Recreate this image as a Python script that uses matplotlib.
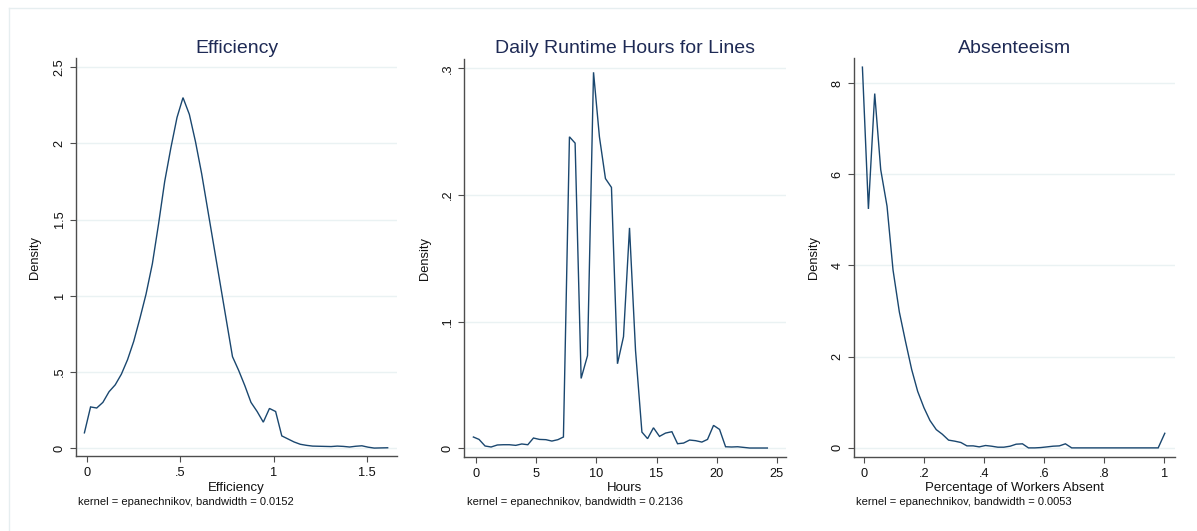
import matplotlib
matplotlib.use("Agg")
import matplotlib.pyplot as plt
from matplotlib.lines import Line2D

plt.rcParams['font.family'] = ['Liberation Sans', 'DejaVu Sans']

# ---------------- data ----------------
eff_x = [-0.014, 0.019, 0.052, 0.085, 0.118, 0.151, 0.184, 0.217, 0.250, 0.283,
         0.316, 0.350, 0.383, 0.416, 0.449, 0.482, 0.514, 0.548, 0.581, 0.614,
         0.647, 0.680, 0.713, 0.746, 0.779, 0.812, 0.845, 0.878, 0.911, 0.944,
         0.977, 1.010, 1.043, 1.076, 1.109, 1.142, 1.175, 1.208, 1.241, 1.274,
         1.307, 1.340, 1.373, 1.406, 1.439, 1.472, 1.505, 1.538, 1.571, 1.610]
eff_y = [0.10, 0.27, 0.263, 0.30, 0.37, 0.415, 0.485, 0.58, 0.70, 0.85,
         1.01, 1.21, 1.47, 1.75, 1.97, 2.17, 2.30, 2.19, 2.01, 1.80,
         1.56, 1.32, 1.08, 0.84, 0.60, 0.51, 0.41, 0.30, 0.24, 0.17,
         0.26, 0.24, 0.08, 0.06, 0.04, 0.025, 0.018, 0.013, 0.012, 0.011,
         0.010, 0.013, 0.011, 0.007, 0.012, 0.015, 0.006, 0.0, 0.001, 0.002]

hrs_x = [-0.22, 0.25, 0.75, 1.25, 1.77, 2.27, 2.77, 3.30, 3.80, 4.30,
         4.77, 5.27, 5.80, 6.30, 6.80, 7.26, 7.76, 8.23, 8.73, 9.26,
         9.76, 10.25, 10.75, 11.25, 11.75, 12.25, 12.75, 13.25, 13.78, 14.25,
         14.74, 15.24, 15.74, 16.27, 16.74, 17.24, 17.74, 18.24, 18.76, 19.23,
         19.73, 20.23, 20.73, 21.23, 21.73, 22.23, 22.73, 23.20, 23.70, 24.20]
hrs_y = [0.0087, 0.0068, 0.0016, 0.0008, 0.0024, 0.0026, 0.0026, 0.0021, 0.0032, 0.0026,
         0.0079, 0.0068, 0.0066, 0.0055, 0.0066, 0.0087, 0.246, 0.241, 0.055, 0.073,
         0.297, 0.246, 0.213, 0.206, 0.0666, 0.088, 0.174, 0.077, 0.0126, 0.0074,
         0.016, 0.0092, 0.0118, 0.0129, 0.0034, 0.0039, 0.0063, 0.0058, 0.0047, 0.0068,
         0.0179, 0.0147, 0.0010, 0.0008, 0.0010, 0.0005, 0.0, 0.0, 0.0, 0.0]

abs_x = [-0.005, 0.015, 0.036, 0.056, 0.077, 0.097, 0.118, 0.138, 0.159, 0.179,
         0.200, 0.220, 0.241, 0.261, 0.282, 0.302, 0.323, 0.343, 0.364, 0.384,
         0.405, 0.425, 0.446, 0.466, 0.487, 0.507, 0.528, 0.548, 0.569, 0.589,
         0.610, 0.630, 0.651, 0.671, 0.692, 0.712, 0.733, 0.753, 0.774, 0.794,
         0.815, 0.836, 0.856, 0.877, 0.897, 0.918, 0.938, 0.959, 0.980, 1.002]
abs_y = [8.35, 5.24, 7.77, 6.10, 5.30, 3.90, 2.98, 2.35, 1.72, 1.24,
         0.88, 0.60, 0.40, 0.30, 0.17, 0.148, 0.118, 0.044, 0.044, 0.022,
         0.052, 0.037, 0.015, 0.015, 0.037, 0.081, 0.089, 0.0, 0.0, 0.007,
         0.022, 0.037, 0.044, 0.089, 0.0, 0.0, 0.0, 0.0, 0.0, 0.0,
         0.0, 0.0, 0.0, 0.0, 0.0, 0.0, 0.0, 0.0, 0.0, 0.32]

titles = ["Efficiency", "Daily Runtime Hours for Lines", "Absenteeism"]
xlabels = ["Efficiency", "Hours", "Percentage of Workers Absent"]
notes = ["kernel = epanechnikov, bandwidth = 0.0152",
         "kernel = epanechnikov, bandwidth = 0.2136",
         "kernel = epanechnikov, bandwidth = 0.0053"]

eff_xticks = [0, 0.5, 1, 1.5]
eff_xticklabels = ["0", ".5", "1", "1.5"]
eff_yticks = [0, 0.5, 1, 1.5, 2, 2.5]
eff_yticklabels = ["0", ".5", "1", "1.5", "2", "2.5"]

hrs_xticks = [0, 5, 10, 15, 20, 25]
hrs_xticklabels = ["0", "5", "10", "15", "20", "25"]
hrs_yticks = [0, 0.1, 0.2, 0.3]
hrs_yticklabels = ["0", ".1", ".2", ".3"]

abs_xticks = [0, 0.2, 0.4, 0.6, 0.8, 1.0]
abs_xticklabels = ["0", ".2", ".4", ".6", ".8", "1"]
abs_yticks = [0, 2, 4, 6, 8]
abs_yticklabels = ["0", "2", "4", "6", "8"]

# ---------------- layout ----------------
W, H = 1197, 531
fig = plt.figure(figsize=(W / 100, H / 100), dpi=100)
fig.patch.set_facecolor("white")

LINE = "#1a476f"
GRID = "#eaf2f3"
SPINE = "#4d4d4d"
TITLE_C = "#1e2a55"

def fx(px):
    return px / W

def fy(py):
    return (H - py) / H

# outer frame
fig.add_artist(Line2D([fx(9), fx(1197)], [fy(8), fy(8)], color="#e6eef0", lw=1.0,
                      transform=fig.transFigure))
fig.add_artist(Line2D([fx(9), fx(9)], [fy(8), fy(531)], color="#e6eef0", lw=1.0,
                      transform=fig.transFigure))

panels = [
    dict(x=eff_x, y=eff_y, l=76, r=397, t=58, b=456, xlim=(-0.059, 1.66), ylim=(-0.052, 2.56),
         xt=eff_xticks, xtl=eff_xticklabels, yt=eff_yticks, ytl=eff_yticklabels,
         dens_x=35, note_x=78),
    dict(x=hrs_x, y=hrs_y, l=464, r=786, t=59, b=457, xlim=(-1.0, 25.75), ylim=(-0.0071, 0.3075),
         xt=hrs_xticks, xtl=hrs_xticklabels, yt=hrs_yticks, ytl=hrs_yticklabels,
         dens_x=425, note_x=467),
    dict(x=abs_x, y=abs_y, l=854, r=1175, t=58, b=457, xlim=(-0.033, 1.036), ylim=(-0.2, 8.55),
         xt=abs_xticks, xtl=abs_xticklabels, yt=abs_yticks, ytl=abs_yticklabels,
         dens_x=814, note_x=856),
]

for i, p in enumerate(panels):
    ax = fig.add_axes([fx(p['l']), fy(p['b']), fx(p['r'] - p['l']), (p['b'] - p['t']) / H])
    ax.set_facecolor("white")
    ax.plot(p['x'], p['y'], color=LINE, lw=1.0, solid_joinstyle='miter', zorder=3)
    ax.set_xlim(*p['xlim'])
    ax.set_ylim(*p['ylim'])
    ax.set_xticks(p['xt'])
    ax.set_xticklabels(p['xtl'], fontsize=9.2, color="#111111")
    ax.set_yticks(p['yt'])
    ax.set_yticklabels(p['ytl'], fontsize=9.2, color="#111111", rotation=90, va='center')
    ax.grid(axis='y', color=GRID, lw=1.0, zorder=0)
    ax.grid(axis='x', visible=False)
    for s in ['top', 'right']:
        ax.spines[s].set_visible(False)
    for s in ['left', 'bottom']:
        ax.spines[s].set_color(SPINE)
        ax.spines[s].set_linewidth(1.0)
    ax.tick_params(axis='both', direction='out', length=4.5, width=0.8, color=SPINE)
    ax.tick_params(axis='x', pad=3.5)
    ax.tick_params(axis='y', pad=3)

    cx = (p['l'] + p['r']) / 2
    fig.text(fx(cx), fy(53), titles[i], ha='center', va='baseline', fontsize=14, color=TITLE_C)
    fig.text(fx(cx), fy(491), xlabels[i], ha='center', va='baseline', fontsize=9.5, color="#111111")
    fig.text(fx(p['dens_x']), fy((p['t'] + p['b']) / 2), "Density", rotation=90,
             ha='center', va='center', fontsize=9.3, color="#111111")
    fig.text(fx(p['note_x']), fy(505), notes[i], ha='left', va='baseline', fontsize=8,
             color="#111111")

fig.savefig("out.png", dpi=100, facecolor="white")
